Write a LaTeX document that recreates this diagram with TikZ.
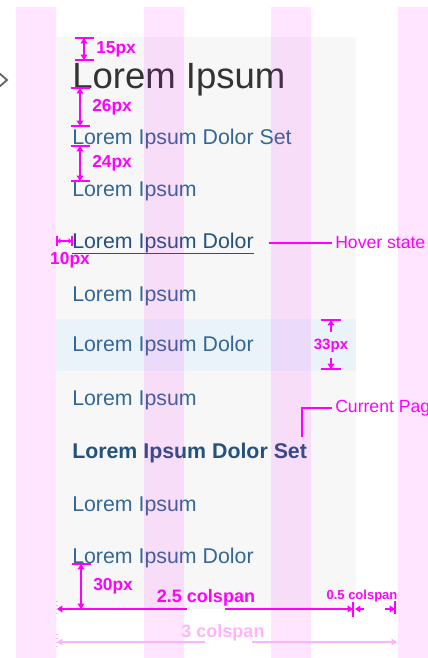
\documentclass[tikz,border=0pt]{standalone}
\usepackage{fontspec}
\setmainfont{Liberation Sans}
\usetikzlibrary{arrows.meta}
\definecolor{mag}{RGB}{255,0,255}
\definecolor{navblue}{RGB}{52,103,150}
\definecolor{navdark}{RGB}{36,82,124}
\definecolor{panel}{RGB}{247,247,247}
\definecolor{hilite}{RGB}{234,243,250}

\begin{document}
\begin{tikzpicture}[x=0.75pt,y=-0.75pt,
  item/.style={anchor=base west,inner sep=0pt,text=navblue,font=\fontsize{16}{19}\selectfont},
  dimlbl/.style={inner sep=0pt,text=mag,font=\bfseries\fontsize{13}{15}\selectfont},
  dimln/.style={mag,line width=1.2pt,>={Triangle[length=4pt,width=5pt]}},
  dimtick/.style={mag,line width=2pt},
  note/.style={anchor=west,inner sep=2.25pt,text=mag,font=\fontsize{13.2}{15}\selectfont}]
  \useasboundingbox (0,0) rectangle (428,658);
  \clip (0,0) rectangle (428,658);
  % panel and current row
  \fill[panel] (56,37) rectangle (356,609);
  \fill[hilite] (56,319) rectangle (356,371);
  \draw[black!60,line width=1.4pt] (-1,73) -- (7,80) -- (-1,87);
  % menu items
  \node[item,text=black!80,font=\fontsize{27.4}{31}\selectfont] (title) at (72,88) {Lorem Ipsum};
  \node[item] (i1) at (72,144) {Lorem Ipsum Dolor Set};
  \node[item] (i2) at (72,196.5) {Lorem Ipsum};
  \node[item,text=navdark] (i3) at (72,248.5) {Lorem Ipsum Dolor};
  \draw[navdark,line width=0.9pt] (i3.south west) -- (i3.south east);
  \node[item] (i4) at (72,301) {Lorem Ipsum};
  \node[item] (i5) at (72,351) {Lorem Ipsum Dolor};
  \node[item] (i6) at (72,405) {Lorem Ipsum};
  \node[item,text=navdark,font=\bfseries\fontsize{16}{19}\selectfont] (i7) at (72,458) {Lorem Ipsum Dolor Set};
  \node[item] (i8) at (72,511) {Lorem Ipsum};
  \node[item] (i9) at (72,563.5) {Lorem Ipsum Dolor};
  % grid columns
  \foreach \cx in {16,143.5,271,398} {\fill[mag,opacity=0.1] (\cx,7) rectangle ++(40,651);}
  % notes
  \node[note] (hover) at (332,243) {Hover state};
  \coordinate (hv) at (269,243);
  \draw[mag,line width=1pt] (hv) -- (hover.west);
  \node[note] (cur) at (332,408) {Current Page};
  \coordinate (cp) at (302,437);
  \draw[mag,line width=1pt] (cur.west) -| (cp);
  % vertical spacing
  \foreach \x/\a/\b/\t in {84/38/60/15px,80/88/126/26px,80/146/181/24px,81/564/609/30px} {
    \draw[dimtick] (\x-9.5,\a) -- (\x+9.5,\a) (\x-9.5,\b) -- (\x+9.5,\b);
    \draw[dimln,<->] (\x,\a) -- (\x,\b);
    \node[dimlbl,anchor=west] (d\t) at (\x+12,{(\a+\b)/2}) {\t};
  }
  \draw[dimtick] (321,320) -- (341,320) (321,369) -- (341,369);
  \draw[dimln,->] (331,332) -- (331,320);
  \draw[dimln,->] (331,358) -- (331,369);
  \node[dimlbl,font=\bfseries\fontsize{11.25}{13}\selectfont] (d33) at (331,346) {33px};
  \draw[dimtick,line width=1.2pt] (57,236) -- (57,246) (72,236) -- (72,246);
  \draw[dimln,<->,>={Triangle[length=2.5pt,width=4pt]}] (57,241) -- (72,241);
  \node[dimlbl] (d10) at (70,260) {10px};
  % column spans
  \node[dimlbl,font=\bfseries\fontsize{13.5}{15}\selectfont] (span) at (206,598) {2.5 colspan};
  \draw[dimln,<-] (57,609) -- (187,609);
  \draw[dimln,->] (225,609) -- (353,609);
  \draw[dimtick] (353,602) -- (353,617);
  \draw[dimln,<-] (355,609) -- (364,609);
  \draw[dimln,->] (385,609) -- (395,609);
  \draw[dimtick] (395,601) -- (395,614);
  \node[dimlbl,font=\bfseries\fontsize{9.75}{11}\selectfont] (half) at (362,596) {0.5 colspan};
  \draw[mag!30,dotted,line width=1pt] (57,601) -- (57,617) (57,634) -- (57,650);
  \node[dimlbl,text=mag!30,font=\bfseries\fontsize{13.5}{15}\selectfont] (full) at (223,633) {3 colspan};
  \draw[dimln,mag!30,<-] (57,642) -- (205,642);
  \draw[dimln,mag!30,->] (252,642) -- (397,642);
\end{tikzpicture}
\end{document}
